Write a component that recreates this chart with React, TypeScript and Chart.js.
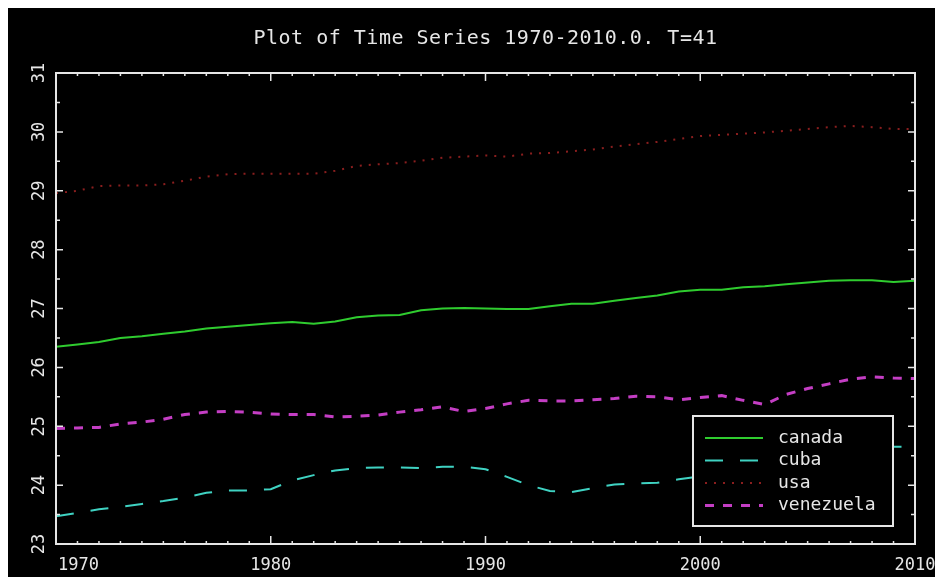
import React, { useEffect, useRef } from "react";
import { Chart, registerables } from "chart.js";

Chart.register(...registerables);

const years = [
  1970, 1971, 1972, 1973, 1974, 1975, 1976, 1977, 1978, 1979,
  1980, 1981, 1982, 1983, 1984, 1985, 1986, 1987, 1988, 1989,
  1990, 1991, 1992, 1993, 1994, 1995, 1996, 1997, 1998, 1999,
  2000, 2001, 2002, 2003, 2004, 2005, 2006, 2007, 2008, 2009, 2010,
];

const canada = [
  26.35, 26.39, 26.43, 26.5, 26.53, 26.57, 26.61, 26.66, 26.69, 26.72,
  26.75, 26.77, 26.74, 26.78, 26.85, 26.88, 26.89, 26.97, 27.0, 27.01,
  27.0, 26.99, 26.99, 27.04, 27.08, 27.08, 27.13, 27.18, 27.22, 27.29,
  27.32, 27.32, 27.36, 27.38, 27.41, 27.44, 27.47, 27.48, 27.48, 27.45, 27.47,
];

const cuba = [
  23.47, 23.53, 23.59, 23.63, 23.68, 23.73, 23.79, 23.87, 23.91, 23.91,
  23.93, 24.08, 24.17, 24.25, 24.29, 24.3, 24.3, 24.29, 24.31, 24.31,
  24.27, 24.14, 24.0, 23.9, 23.88, 23.95, 24.01, 24.03, 24.04, 24.1,
  24.15, 24.2, 24.25, 24.3, 24.38, 24.44, 24.5, 24.56, 24.62, 24.65, 24.65,
];

const usa = [
  28.96, 29.0, 29.08, 29.09, 29.09, 29.11, 29.17, 29.24, 29.28, 29.29,
  29.29, 29.29, 29.29, 29.34, 29.42, 29.45, 29.47, 29.51, 29.56, 29.58,
  29.6, 29.58, 29.63, 29.64, 29.67, 29.7, 29.75, 29.79, 29.83, 29.88,
  29.93, 29.95, 29.97, 29.99, 30.02, 30.05, 30.08, 30.1, 30.08, 30.05, 30.05,
];

const venezuela = [
  24.96, 24.97, 24.98, 25.04, 25.07, 25.12, 25.2, 25.24, 25.25, 25.24,
  25.21, 25.2, 25.2, 25.16, 25.17, 25.19, 25.24, 25.28, 25.33, 25.25,
  25.3, 25.38, 25.44, 25.43, 25.43, 25.45, 25.47, 25.51, 25.5, 25.45,
  25.49, 25.52, 25.44, 25.37, 25.54, 25.64, 25.72, 25.8, 25.84, 25.82, 25.81,
];

const seriesNames = ["canada", "cuba", "usa", "venezuela"];
const xTickLabels = ["1970", "1980", "1990", "2000", "2010"];
const yTickLabels = ["23", "24", "25", "26", "27", "28", "29", "30", "31"];
const titleText = "Plot of Time Series 1970-2010.0. T=41";

const FONT = '"DejaVu Sans Mono", monospace';
const FG = "#e6e6e6";

const styles = [
  { color: "#2fcc2f", dash: [] as number[], width: 2 },
  { color: "#3fd2c2", dash: [18, 17], width: 2 },
  { color: "#8a1e1e", dash: [2, 7], width: 2 },
  { color: "#c43ec4", dash: [9, 9], width: 3 },
];

const idlPlugin = {
  id: "idlAxes",
  beforeDraw(chart: any) {
    const { ctx, width, height } = chart;
    ctx.save();
    ctx.fillStyle = "#000";
    ctx.fillRect(0, 0, width, height);
    ctx.restore();
  },
  afterDatasetsDraw(chart: any) {
    const { ctx, chartArea: a, scales } = chart;
    const x = scales.x;
    const y = scales.y;
    ctx.save();
    ctx.strokeStyle = FG;
    ctx.lineWidth = 2;
    ctx.setLineDash([]);
    ctx.strokeRect(a.left, a.top, a.right - a.left, a.bottom - a.top);

    ctx.lineWidth = 1.5;
    const x0 = Number(xTickLabels[0]);
    const x1 = Number(xTickLabels[xTickLabels.length - 1]);
    for (let v = x0; v <= x1; v++) {
      const px = x.getPixelForValue(v);
      const len = v % 10 === 0 ? 8 : 3;
      ctx.beginPath();
      ctx.moveTo(px, a.bottom);
      ctx.lineTo(px, a.bottom - len);
      ctx.moveTo(px, a.top);
      ctx.lineTo(px, a.top + len);
      ctx.stroke();
    }
    const y0 = Number(yTickLabels[0]);
    const y1 = Number(yTickLabels[yTickLabels.length - 1]);
    for (let v = y0; v <= y1 + 1e-9; v += 0.5) {
      const py = y.getPixelForValue(v);
      const len = Number.isInteger(v) ? 7 : 4;
      ctx.beginPath();
      ctx.moveTo(a.left, py);
      ctx.lineTo(a.left + len, py);
      ctx.moveTo(a.right, py);
      ctx.lineTo(a.right - len, py);
      ctx.stroke();
    }

    ctx.fillStyle = FG;
    ctx.font = `17px ${FONT}`;
    ctx.textBaseline = "middle";
    xTickLabels.forEach((t, i) => {
      const px = x.getPixelForValue(Number(t));
      if (i === 0) {
        ctx.textAlign = "left";
        ctx.fillText(t, px + 2, a.bottom + 22);
      } else {
        ctx.textAlign = "center";
        ctx.fillText(t, px, a.bottom + 22);
      }
    });
    yTickLabels.forEach((t) => {
      const py = y.getPixelForValue(Number(t));
      ctx.save();
      ctx.translate(a.left - 16, py);
      ctx.rotate(-Math.PI / 2);
      ctx.textAlign = "center";
      ctx.fillText(t, 0, 0);
      ctx.restore();
    });

    ctx.font = `20px ${FONT}`;
    ctx.textAlign = "center";
    (ctx as any).letterSpacing = "0.5px";
    ctx.fillText(titleText, (a.left + a.right) / 2, a.top - 34);
    (ctx as any).letterSpacing = "0px";

    const bx = a.right - 222;
    const by = a.bottom - 128;
    const bw = 200;
    const bh = 110;
    ctx.fillStyle = "#000";
    ctx.fillRect(bx, by, bw, bh);
    ctx.strokeStyle = FG;
    ctx.lineWidth = 2;
    ctx.strokeRect(bx, by, bw, bh);
    ctx.font = `18px ${FONT}`;
    ctx.textAlign = "left";
    seriesNames.forEach((name, i) => {
      const ly = by + 22 + i * 22.5;
      const s = styles[i];
      ctx.strokeStyle = s.color;
      ctx.lineWidth = s.width;
      ctx.setLineDash(s.dash);
      ctx.beginPath();
      ctx.moveTo(bx + 12, ly);
      ctx.lineTo(bx + 70, ly);
      ctx.stroke();
      ctx.setLineDash([]);
      ctx.fillStyle = FG;
      ctx.fillText(name, bx + 85, ly);
    });
    ctx.restore();
  },
};

export default function App() {
  const ref = useRef<HTMLCanvasElement | null>(null);
  useEffect(() => {
    if (!ref.current) return;
    const all = [canada, cuba, usa, venezuela];
    const chart = new Chart(ref.current, {
      type: "line",
      data: {
        datasets: seriesNames.map((name, i) => ({
          label: name,
          data: years.map((yr, j) => ({ x: yr, y: all[i][j] })),
          borderColor: styles[i].color,
          borderWidth: styles[i].width,
          borderDash: styles[i].dash,
          pointRadius: 0,
          tension: 0,
          fill: false,
        })),
      },
      options: {
        animation: false,
        responsive: false,
        devicePixelRatio: 1,
        layout: { padding: { left: 48, right: 20, top: 65, bottom: 33 } },
        plugins: { legend: { display: false }, title: { display: false }, tooltip: { enabled: false } },
        scales: {
          x: { type: "linear", min: 1970, max: 2010, display: false },
          y: { type: "linear", min: 23, max: 31, display: false },
        },
      },
      plugins: [idlPlugin],
    });
    return () => chart.destroy();
  }, []);
  return (
    <div style={{ position: "fixed", top: 8, left: 8, width: 927, height: 569, background: "#000" }}>
      <canvas ref={ref} width={927} height={569} style={{ display: "block" }} />
    </div>
  );
}
